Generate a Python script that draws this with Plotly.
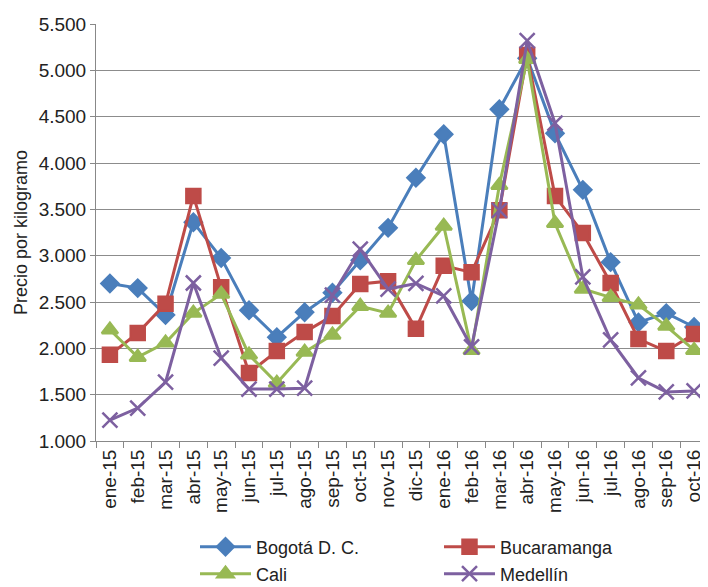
import plotly.graph_objects as go

meses = ["ene-15", "feb-15", "mar-15", "abr-15", "may-15", "jun-15", "jul-15",
         "ago-15", "sep-15", "oct-15", "nov-15", "dic-15", "ene-16", "feb-16",
         "mar-16", "abr-16", "may-16", "jun-16", "jul-16", "ago-16", "sep-16",
         "oct-16"]

bogota = [2700, 2650, 2360, 3360, 2975, 2410, 2120, 2390, 2600, 2950, 3300,
          3840, 4310, 2510, 4580, 5130, 4320, 3710, 2930, 2280, 2380, 2230]
bucaramanga = [1930, 2165, 2480, 3645, 2660, 1735, 1970, 2175, 2350, 2695, 2725,
               2210, 2890, 2820, 3490, 5165, 3645, 3245, 2705, 2100, 1970, 2155]
cali = [2200, 1905, 2060, 2380, 2585, 1930, 1625, 1960, 2145, 2455, 2380,
        2950, 3320, 1980, 3760, 5120, 3350, 2640, 2550, 2470, 2240, 1980]
medellin = [1225, 1355, 1635, 2705, 1895, 1560, 1560, 1570, 2575, 3070, 2640,
            2700, 2565, 2015, 3490, 5320, 4430, 2770, 2090, 1680, 1530, 1540]

series = [
    ("Bogotá D. C.", bogota, "#4A7EBB", "diamond", 13, "legend"),
    ("Bucaramanga", bucaramanga, "#BE4B48", "square", 14, "legend"),
    ("Cali", cali, "#98B954", "triangle-up", 14, "legend2"),
    ("Medellín", medellin, "#7D60A0", "x-thin", 15, "legend2"),
]

fig = go.Figure()
for name, vals, color, symbol, size, leg in series:
    fig.add_trace(go.Scatter(
        x=meses, y=vals, name=name, mode="lines+markers", legend=leg,
        line=dict(color=color, width=3),
        marker=dict(symbol=symbol, size=size, color=color,
                    line=dict(color=color, width=2.5)),
    ))

# page body has an 8px margin, so the figure is 8px smaller than the window
W, H = 700, 579

# two one-row legends stacked, so the entries line up in two columns
legend_common = dict(orientation="h", xanchor="left", yanchor="middle",
                     xref="container", yref="container",
                     entrywidth=178, itemwidth=51, font=dict(size=18),
                     bgcolor="rgba(0,0,0,0)", borderwidth=0)

fig.update_layout(
    width=W, height=H,
    margin=dict(l=88, r=0, t=16, b=146, autoexpand=False),
    paper_bgcolor="white", plot_bgcolor="white",
    font=dict(family="Liberation Sans, Arial, sans-serif", size=19, color="#222"),
    separators=",.",
    showlegend=True,
    legend=dict(x=187 / W, y=1 - 539 / H, **legend_common),
    legend2=dict(x=187 / W, y=1 - 566 / H, **legend_common),
    xaxis=dict(
        type="category", range=[-0.5, len(meses) - 0.5],
        tickangle=-90, tickson="boundaries",
        ticks="outside", ticklen=6, tickcolor="#888",
        showline=True, linecolor="#888", linewidth=1,
        showgrid=False, automargin=False,
    ),
    yaxis=dict(
        range=[1000, 5500], dtick=500, tickformat=",d",
        showgrid=True, gridcolor="#8c8c8c", gridwidth=1,
        showline=True, linecolor="#888", linewidth=1,
        ticks="outside", ticklen=5, tickcolor="#888",
        zeroline=False, automargin=False,
        title=dict(text="Precio por kilogramo", font=dict(size=18), standoff=6),
    ),
)

fig.write_html("out.html")
